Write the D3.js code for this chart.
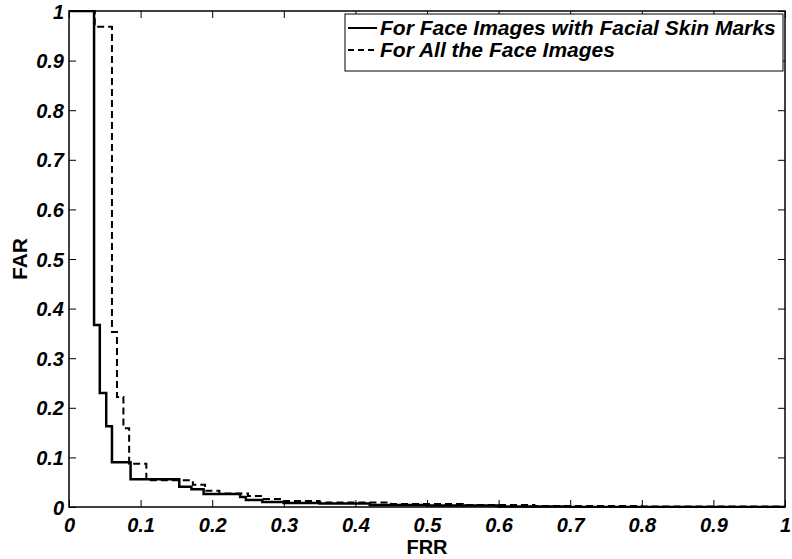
<!DOCTYPE html>
<html>
<head>
<meta charset="utf-8">
<script src="https://cdn.jsdelivr.net/npm/d3@7"></script>
<style>
  body { margin: 0; background: #fff; }
  svg text { font-family: "Liberation Sans", Arial, sans-serif; fill: #000; }
</style>
</head>
<body>
<svg id="chart" width="792" height="559"></svg>
<script>
// FRR / FAR step points
const skinFRR = [0, 0.035, 0.043, 0.052, 0.060, 0.086, 0.154, 0.171, 0.188, 0.239, 0.247, 0.270, 0.300, 0.350, 0.420, 0.500, 0.600, 0.700, 1];
const skinFAR = [1, 0.367, 0.230, 0.163, 0.090, 0.056, 0.041, 0.036, 0.026, 0.020, 0.014, 0.010, 0.008, 0.007, 0.004, 0.003, 0.001, 0, 0];

const allFRR = [0, 0.036, 0.060, 0.067, 0.076, 0.084, 0.108, 0.173, 0.190, 0.210, 0.250, 0.270, 0.300, 0.350, 0.450, 0.550, 0.650, 0.800, 1];
const allFAR = [1, 0.968, 0.353, 0.222, 0.159, 0.087, 0.054, 0.045, 0.033, 0.027, 0.022, 0.016, 0.012, 0.009, 0.006, 0.004, 0.002, 0.001, 0];

const xTicks = [0, 0.1, 0.2, 0.3, 0.4, 0.5, 0.6, 0.7, 0.8, 0.9, 1];
const yTicks = [0, 0.1, 0.2, 0.3, 0.4, 0.5, 0.6, 0.7, 0.8, 0.9, 1];
const legendLabels = ['For Face Images with Facial Skin Marks', 'For All the Face Images'];

const svg = d3.select('#chart');
const margin = { left: 69, top: 11, right: 7, bottom: 52 };
const width = 792 - margin.left - margin.right;
const height = 559 - margin.top - margin.bottom;

const x = d3.scaleLinear().domain([0, 1]).range([0, width]);
const y = d3.scaleLinear().domain([0, 1]).range([height, 0]);

const g = svg.append('g').attr('transform', `translate(${margin.left},${margin.top})`);

g.append('clipPath').attr('id', 'clip')
    .append('rect').attr('x', -1).attr('y', -1).attr('width', width + 2).attr('height', height + 2);

const tickFmt = d => d === 0 || d === 1 ? String(d) : d3.format('.1f')(d);

// bottom / left axes with inward ticks
const xAxis = g.append('g')
    .attr('transform', `translate(0,${height})`)
    .call(d3.axisBottom(x).tickValues(xTicks).tickFormat(tickFmt).tickSizeInner(-7).tickSizeOuter(0).tickPadding(11));
const yAxis = g.append('g')
    .call(d3.axisLeft(y).tickValues(yTicks).tickFormat(tickFmt).tickSizeInner(-7).tickSizeOuter(0).tickPadding(5));
// mirrored top / right ticks
const xTop = g.append('g')
    .call(d3.axisTop(x).tickValues(xTicks).tickFormat('').tickSizeInner(-7).tickSizeOuter(0));
const yRight = g.append('g')
    .attr('transform', `translate(${width},0)`)
    .call(d3.axisRight(y).tickValues(yTicks).tickFormat('').tickSizeInner(-7).tickSizeOuter(0));

[xAxis, yAxis, xTop, yRight].forEach(a => {
    a.select('.domain').remove();
    a.selectAll('.tick line').attr('stroke', '#000').attr('stroke-width', 1);
    a.selectAll('.tick text')
        .attr('font-size', '20px')
        .attr('font-weight', 'bold')
        .attr('font-style', 'italic')
        .attr('fill', '#000');
});
yAxis.selectAll('.tick text').attr('dy', '0.35em');

// curves
const line = d3.line()
    .x(d => x(d[0]))
    .y(d => y(d[1]))
    .curve(d3.curveStepAfter);

const curves = g.append('g').attr('clip-path', 'url(#clip)');

curves.append('path')
    .datum(d3.zip(allFRR, allFAR))
    .attr('fill', 'none')
    .attr('stroke', '#000')
    .attr('stroke-width', 2)
    .attr('stroke-dasharray', '7,4')
    .attr('d', line);

curves.append('path')
    .datum(d3.zip(skinFRR, skinFAR))
    .attr('fill', 'none')
    .attr('stroke', '#000')
    .attr('stroke-width', 2.5)
    .attr('d', line);

// axes box
g.append('rect')
    .attr('width', width)
    .attr('height', height)
    .attr('fill', 'none')
    .attr('stroke', '#000')
    .attr('stroke-width', 1.5);

// axis labels
svg.append('text')
    .attr('x', margin.left + width / 2)
    .attr('y', 554)
    .attr('text-anchor', 'middle')
    .attr('font-size', '20px')
    .attr('font-weight', 'bold')
    .text('FRR');

svg.append('text')
    .attr('transform', `translate(27,${margin.top + height / 2}) rotate(-90)`)
    .attr('text-anchor', 'middle')
    .attr('font-size', '21px')
    .attr('font-weight', 'bold')
    .text('FAR');

// legend
const legend = svg.append('g').attr('transform', 'translate(345,14)');
legend.append('rect')
    .attr('width', 438)
    .attr('height', 57)
    .attr('fill', '#fff')
    .attr('stroke', '#000')
    .attr('stroke-width', 1);

const legendRows = legend.selectAll('g.row')
    .data(legendLabels)
    .enter()
    .append('g')
    .attr('class', 'row')
    .attr('transform', (d, i) => `translate(0,${14 + i * 22})`);

legendRows.append('line')
    .attr('x1', 3).attr('x2', 32)
    .attr('stroke', '#000')
    .attr('stroke-width', (d, i) => i === 0 ? 2 : 1.8)
    .attr('stroke-dasharray', (d, i) => i === 0 ? null : '6,4');

legendRows.append('text')
    .attr('x', 35)
    .attr('dy', '0.35em')
    .attr('font-size', '21px')
    .attr('font-weight', 'bold')
    .attr('font-style', 'italic')
    .text(d => d);
</script>
</body>
</html>
